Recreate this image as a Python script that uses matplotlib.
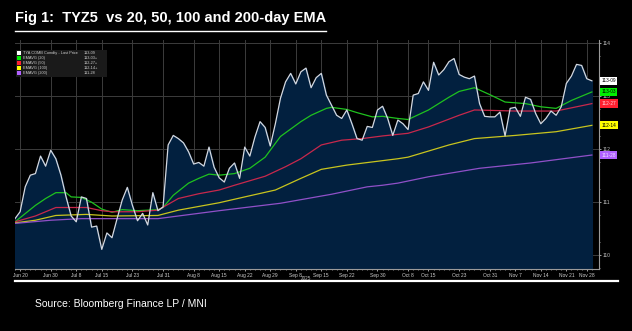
import matplotlib.pyplot as plt
import numpy as np
import pandas as pd
from matplotlib.patches import Rectangle

# trading days shown (US bond holidays removed)
dates = pd.bdate_range('2025-06-18', '2025-12-01')
holidays = pd.to_datetime(['2025-06-19', '2025-07-04', '2025-09-01', '2025-10-13', '2025-11-27'])
dates = dates[~dates.isin(holidays)]

# TY futures last price, one value per trading day
price = [110.69, 110.82, 111.29, 111.51, 111.54, 111.87, 111.68, 111.98, 111.82, 111.51,
         111.10, 110.74, 110.63, 111.10, 111.07, 110.53, 110.55, 110.11, 110.42, 110.33,
         110.69, 111.04, 111.28, 110.94, 110.65, 110.79, 110.57, 111.18, 110.84, 110.91,
         112.08, 112.26, 112.20, 112.12, 111.95, 111.72, 111.75, 111.68, 112.04, 111.66,
         111.46, 111.38, 111.64, 111.74, 111.45, 112.04, 111.87, 112.23, 112.52, 112.41,
         112.06, 112.48, 112.96, 113.27, 113.43, 113.23, 113.46, 113.53, 113.16, 113.35,
         113.43, 113.02, 112.83, 112.64, 112.58, 112.74, 112.48, 112.20, 112.17, 112.43,
         112.41, 112.74, 112.81, 112.58, 112.26, 112.55, 112.48, 112.37, 113.02, 113.05,
         113.27, 113.11, 113.64, 113.40, 113.50, 113.65, 113.71, 113.41, 113.36, 113.33,
         113.38, 112.86, 112.62, 112.61, 112.61, 112.70, 112.25, 112.77, 112.79, 112.62,
         112.98, 112.94, 112.67, 112.48, 112.58, 112.72, 112.64, 112.80, 113.24, 113.38,
         113.60, 113.58, 113.33, 113.29]

# EMAs read at selected trading-day indices
ema20_day = [0, 4, 6, 8, 10, 11, 13, 15, 17, 19, 21, 24, 28, 29, 31, 34, 36, 38, 40, 43, 46, 49,
             52, 56, 58, 61, 62, 65, 67, 70, 72, 75, 77, 81, 85, 87, 90, 93, 96, 100, 103, 106, 109, 113]
ema20_val = [110.63, 110.94, 111.07, 111.18, 111.18, 111.10, 111.09, 111.00, 110.87, 110.81, 110.86,
             110.84, 110.86, 110.90, 111.13, 111.36, 111.45, 111.53, 111.51, 111.54, 111.64, 111.85,
             112.24, 112.52, 112.64, 112.77, 112.79, 112.75, 112.69, 112.61, 112.62, 112.58, 112.56,
             112.74, 112.98, 113.09, 113.16, 113.03, 112.89, 112.86, 112.80, 112.77, 112.92, 113.08]
ema50_day = [0, 4, 8, 14, 17, 19, 24, 28, 32, 36, 40, 43, 49, 53, 56, 60, 64, 68, 72, 75, 77, 81,
             87, 90, 98, 106, 113]
ema50_val = [110.63, 110.74, 110.90, 110.90, 110.84, 110.82, 110.82, 110.85, 111.07, 111.16, 111.23,
             111.32, 111.49, 111.67, 111.82, 112.08, 112.17, 112.20, 112.25, 112.28, 112.30, 112.42,
             112.64, 112.74, 112.72, 112.72, 112.86]
ema100_day = [0, 4, 8, 14, 19, 28, 32, 36, 40, 45, 51, 56, 60, 65, 70, 75, 77, 85, 90, 98, 106, 113]
ema100_val = [110.61, 110.66, 110.75, 110.77, 110.74, 110.75, 110.85, 110.92, 110.99, 111.10, 111.23,
              111.45, 111.62, 111.70, 111.76, 111.82, 111.85, 112.08, 112.20, 112.26, 112.33, 112.45]
ema200_day = [0, 7, 13, 28, 40, 52, 62, 69, 72, 75, 81, 91, 101, 113]
ema200_val = [110.60, 110.66, 110.69, 110.69, 110.84, 110.98, 111.15, 111.29, 111.32, 111.36, 111.48,
              111.64, 111.74, 111.89]

tick_dates = ['2025-06-20', '2025-06-30', '2025-07-08', '2025-07-15', '2025-07-23', '2025-07-31',
              '2025-08-08', '2025-08-15', '2025-08-22', '2025-08-29', '2025-09-08', '2025-09-15',
              '2025-09-22', '2025-09-30', '2025-10-08', '2025-10-15', '2025-10-23', '2025-10-31',
              '2025-11-07', '2025-11-14', '2025-11-21', '2025-11-28']

legend_names = ['TYA COMB Comdty - Last Price', 'EMAVG (20)', 'EMAVG (50)', 'EMAVG (100)', 'EMAVG (200)']
legend_vals = ['113-09', '113-03+', '112-27+', '112-14+', '111-28']

line_cols = ['#d4d8e0', '#1fc21f', '#c8284c', '#c8c41e', '#9050c8']
key_cols = ['#ffffff', '#00ee00', '#ff2030', '#ffff00', '#b060ff']
tag_text = ['black', 'black', '#ffd0d8', 'black', '#f0e0ff']

plt.rcParams['font.family'] = ['Liberation Sans', 'DejaVu Sans']

fig = plt.figure(figsize=(6.32, 3.31), dpi=100, facecolor='black')
ax = fig.add_axes([15 / 632, 62 / 331, 584 / 632, 229 / 331])
ax.set_facecolor('black')

x = np.arange(len(price))
ax.fill_between(x, price, 109.74, color='#02203f', zorder=1)
ax.plot(x, price, color=line_cols[0], lw=0.9, zorder=4)
for d, v, c in [(ema20_day, ema20_val, line_cols[1]), (ema50_day, ema50_val, line_cols[2]),
                (ema100_day, ema100_val, line_cols[3]), (ema200_day, ema200_val, line_cols[4])]:
    ax.plot(d, v, color=c, lw=0.9, zorder=3)

ax.set_xlim(0, 114.4)
ax.set_ylim(109.74, 114.06)

tick_pos = dates.get_indexer(pd.to_datetime(tick_dates))
ax.set_xticks(tick_pos)
ax.set_xticklabels([f"{d:%b} {d.day}" for d in pd.to_datetime(tick_dates)], fontsize=3.5, color='#d0d0d0')
ax.set_xticks(x, minor=True)
ax.yaxis.tick_right()
ax.set_yticks([110, 111, 112, 113, 114])
ax.set_yticklabels(['110', '111', '112', '113', '114'], fontsize=3.6, color='#c0c0c0')
ax.set_yticks(np.arange(109.75, 114.0, 0.5), minor=True)
ax.tick_params(axis='both', which='major', length=1.6, width=0.6, color='#bbbbbb', pad=1.0)
ax.tick_params(axis='both', which='minor', length=1, width=0.5, color='#bbbbbb')
ax.grid(True, which='major', color='#3c3c3c', lw=0.7, zorder=0)
ax.set_axisbelow(True)
for s in ['top', 'left']:
    ax.spines[s].set_visible(False)
for s in ['bottom', 'right']:
    ax.spines[s].set_color('#9a9a9a')
    ax.spines[s].set_linewidth(0.8)

# value tags on the right edge
ends = [price[-1], ema20_val[-1], ema50_val[-1], ema100_val[-1], ema200_val[-1]]
for v, lab, c, tc in zip(ends, legend_vals, key_cols, tag_text):
    ax.text(1.004, v, lab.rstrip('+'), transform=ax.get_yaxis_transform(), fontsize=3.4, color=tc,
            va='center', ha='left', zorder=6,
            bbox=dict(boxstyle='square,pad=0.35', fc=c, ec='none'))

# legend box
ax.add_patch(Rectangle((0.001, 0.84), 0.157, 0.115, transform=ax.transAxes, fc='#1a1a1a',
                       ec='none', zorder=5))
for i, (name, val, c) in enumerate(zip(legend_names, legend_vals, key_cols)):
    yy = 0.944 - i * 0.022
    ax.add_patch(Rectangle((0.004, yy - 0.009), 0.006, 0.018, transform=ax.transAxes, fc=c,
                           ec='none', zorder=6))
    ax.text(0.013, yy, name, transform=ax.transAxes, fontsize=2.8, color='#cfcfcf', va='center', zorder=6)
    ax.text(0.118, yy, val, transform=ax.transAxes, fontsize=2.8, color='#cfcfcf', va='center', zorder=6)

fig.text(306 / 632, 1 - 278.5 / 331, '2025', fontsize=3.3, color='#c0c0c0', ha='center', va='center')

title = fig.text(15 / 632, 1 - 18 / 331, 'Fig 1:  TYZ5  vs 20, 50, 100 and 200-day EMA',
                 fontsize=10.5, fontweight='bold', color='white', va='center', ha='left')
fig.text(35 / 632, 1 - 304 / 331, 'Source: Bloomberg Finance LP / MNI', fontsize=7.5,
         color='white', va='center', ha='left')
fig.add_artist(plt.Line2D([15 / 632, 618 / 632], [1 - 281 / 331] * 2, color='white', lw=1.6))

# underline the title
fig.canvas.draw()
bb = title.get_window_extent().transformed(fig.transFigure.inverted())
fig.add_artist(plt.Line2D([bb.x0, bb.x1], [1 - 31 / 331] * 2, color='white', lw=1.0))

fig.savefig('out.png', dpi=100, facecolor='black')
